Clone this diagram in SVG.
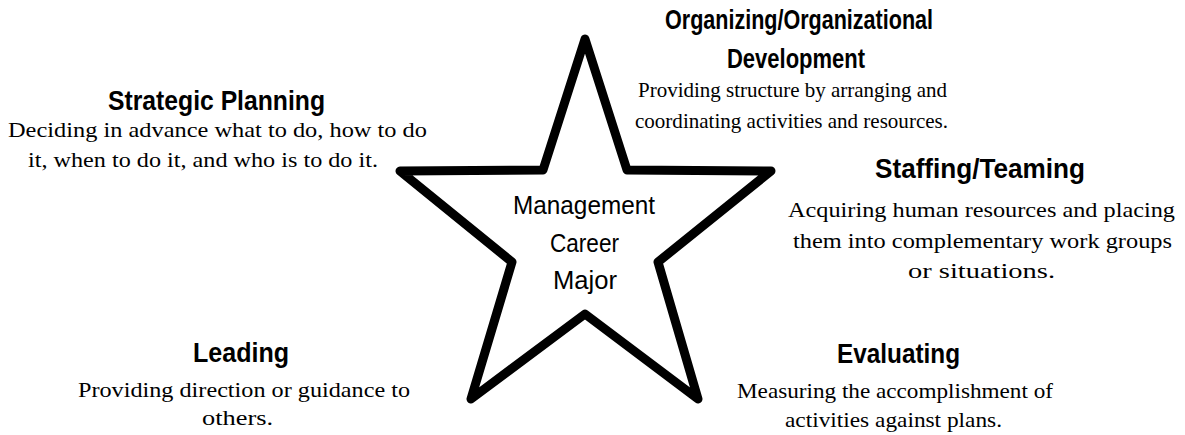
<svg xmlns="http://www.w3.org/2000/svg" width="1185" height="435" viewBox="0 0 1185 435">
<style>
.h{font-family:"Liberation Sans Narrow","Liberation Sans",Arial,sans-serif;font-weight:bold;font-size:28px;fill:#000;text-anchor:middle}
.b{font-family:"Liberation Serif","Times New Roman",serif;font-size:22px;fill:#000;text-anchor:middle}
.c{font-family:"Liberation Sans Narrow","Liberation Sans",Arial,sans-serif;font-size:26px;fill:#000;text-anchor:middle}
.star{fill:#fff;stroke:#000;stroke-width:9;stroke-linejoin:round}
</style>
<rect width="1185" height="435" fill="#fff"/>
<g id="star">
<polygon class="star" points="585,39 627,170 771,171 658,262 698,399 585,314 471,399 512,262 400,171 543,170"/>
<text class="c" x="584" y="214" textLength="142" lengthAdjust="spacingAndGlyphs">Management</text>
<text class="c" x="584.5" y="252" textLength="69" lengthAdjust="spacingAndGlyphs">Career</text>
<text class="c" x="585" y="289" textLength="64" lengthAdjust="spacingAndGlyphs">Major</text>
</g>
<g id="strategic-planning">
<text class="h" x="216.5" y="110" textLength="217" lengthAdjust="spacingAndGlyphs">Strategic Planning</text>
<text class="b" x="217.5" y="137" textLength="419" lengthAdjust="spacingAndGlyphs">Deciding in advance what to do, how to do</text>
<text class="b" x="203" y="167" textLength="350" lengthAdjust="spacingAndGlyphs">it, when to do it, and who is to do it.</text>
</g>
<g id="organizing">
<text class="h" x="799" y="29" textLength="268" lengthAdjust="spacingAndGlyphs">Organizing/Organizational</text>
<text class="h" x="796" y="68" textLength="138" lengthAdjust="spacingAndGlyphs">Development</text>
<text class="b" x="792.5" y="97" textLength="309" lengthAdjust="spacingAndGlyphs">Providing structure by arranging and</text>
<text class="b" x="791.5" y="128" textLength="313" lengthAdjust="spacingAndGlyphs">coordinating activities and resources.</text>
</g>
<g id="staffing">
<text class="h" x="980" y="178" textLength="210" lengthAdjust="spacingAndGlyphs">Staffing/Teaming</text>
<text class="b" x="981.5" y="217" textLength="387" lengthAdjust="spacingAndGlyphs">Acquiring human resources and placing</text>
<text class="b" x="982.5" y="248" textLength="379" lengthAdjust="spacingAndGlyphs">them into complementary work groups</text>
<text class="b" x="981.5" y="278" textLength="147" lengthAdjust="spacingAndGlyphs">or situations.</text>
</g>
<g id="leading">
<text class="h" x="241" y="362" textLength="96" lengthAdjust="spacingAndGlyphs">Leading</text>
<text class="b" x="244" y="397" textLength="332" lengthAdjust="spacingAndGlyphs">Providing direction or guidance to</text>
<text class="b" x="237.5" y="425" textLength="71" lengthAdjust="spacingAndGlyphs">others.</text>
</g>
<g id="evaluating">
<text class="h" x="898.5" y="363" textLength="123" lengthAdjust="spacingAndGlyphs">Evaluating</text>
<text class="b" x="895" y="398" textLength="316" lengthAdjust="spacingAndGlyphs">Measuring the accomplishment of</text>
<text class="b" x="893.5" y="427" textLength="217" lengthAdjust="spacingAndGlyphs">activities against plans.</text>
</g>
</svg>
